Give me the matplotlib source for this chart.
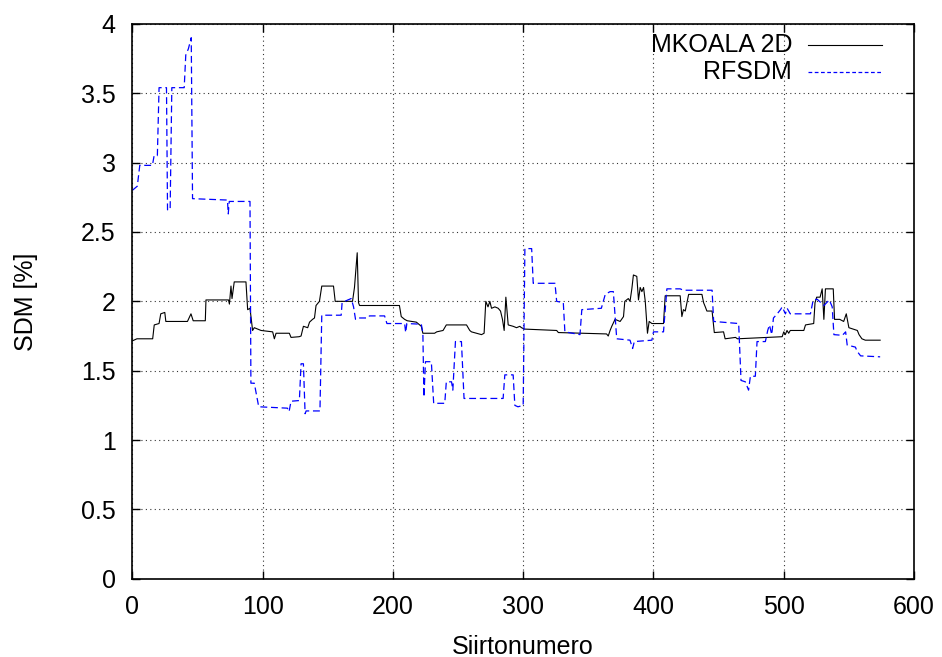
import matplotlib
matplotlib.use('Agg')
import matplotlib.pyplot as plt
from matplotlib.ticker import MultipleLocator, FormatStrFormatter

plt.rcParams['font.family'] = ['Liberation Sans', 'DejaVu Sans']

# MKOALA 2D (black, solid)
mk_x = [0, 3.5, 15.6, 16.8, 20.5, 21.8, 24.9, 25.7, 42.3, 45, 46.7, 56, 56.5, 73.8, 74.5,
        75.7, 76.5, 78.2, 87.2, 88.5, 90.3, 92.3, 93.6, 98.8, 107.7, 109, 110.3, 120.5,
        121.8, 128, 129.5, 131.3, 134.6, 136, 138.3, 139.8, 141, 143.6, 145.4, 154.4,
        155.7, 169, 170.5, 172.6, 173.6, 174.4, 205, 206.4, 209, 211, 218, 221.8, 223,
        232, 233.6, 238.5, 241, 256.5, 259, 260.3, 264, 268, 270, 271.3, 273, 274.4,
        275.7, 278.3, 280.8, 282.6, 284.1, 285.4, 286.7, 288.5, 292.3, 294.9, 297.4,
        298.7, 301, 325.7, 327, 364, 365.3, 366.7, 368, 370.5, 374.4, 377, 378, 380.7,
        382, 383.4, 384.6, 387.2, 388.5, 389.8, 391.1, 392.4, 393.7, 395.4, 396.7,
        398.8, 407.7, 409, 420.5, 421.8, 423, 424.4, 427, 437.2, 438.5, 439.8, 441, 445,
        446.7, 453.8, 455, 463, 464.4, 498.8, 500, 501.2, 502.5, 503.8, 505, 515.4,
        516.7, 523, 524, 525.3, 527.9, 529.5, 530.8, 532, 538, 539, 543, 546, 548, 550,
        556.5, 557.8, 560, 562.6, 574]
mk_y = [1.715, 1.73, 1.73, 1.83, 1.84, 1.91, 1.92, 1.855, 1.855, 1.91, 1.86, 1.86, 2.01,
        2.01, 1.98, 2.11, 2.02, 2.14, 2.14, 1.94, 1.95, 1.79, 1.81, 1.79, 1.78, 1.73,
        1.77, 1.77, 1.74, 1.745, 1.75, 1.82, 1.81, 1.85, 1.87, 1.88, 1.97, 2.0, 2.11,
        2.11, 2.0, 2.0, 2.1, 2.35, 1.99, 1.97, 1.97, 1.89, 1.87, 1.86, 1.85, 1.82, 1.77,
        1.77, 1.78, 1.79, 1.83, 1.83, 1.79, 1.78, 1.77, 1.76, 1.77, 2.0, 1.96, 2.0,
        1.95, 1.96, 1.95, 1.93, 1.87, 1.79, 2.03, 1.83, 1.82, 1.81, 1.82, 1.81, 1.80,
        1.79, 1.775, 1.765, 1.75, 1.79, 1.82, 1.87, 1.855, 1.89, 2.0, 2.02, 2.0, 2.09,
        2.19, 2.18, 2.01, 2.1, 2.07, 2.1, 2.0, 1.77, 1.855, 1.84, 1.84, 2.04, 2.04,
        1.89, 1.94, 1.93, 2.05, 2.05, 1.99, 1.96, 1.93, 1.93, 1.775, 1.78, 1.73, 1.74,
        1.73, 1.745, 1.78, 1.76, 1.79, 1.77, 1.79, 1.79, 1.83, 1.84, 1.99, 2.03, 2.03,
        2.09, 1.87, 2.09, 2.09, 1.87, 1.87, 1.855, 1.91, 1.81, 1.79, 1.76, 1.73, 1.72,
        1.72]

# RFSDM (blue, dashed)
rf_x = [0, 3.8, 5.7, 15.4, 16.7, 19.2, 20.5, 26.2, 27, 29, 30.3, 39.8, 41, 43, 45.2,
        46.2, 73, 73.6, 74.4, 90.3, 91, 93.6, 97, 119, 120.3, 121.8, 128.2, 129.5,
        131.3, 132.6, 133.4, 144, 145.4, 160.3, 161, 165.4, 168, 169.8, 171.3, 173,
        180.8, 182, 193.6, 195.4, 209, 209.8, 210.7, 221.8, 223, 223.8, 225, 229.5,
        231.3, 239.8, 241, 245, 246, 248, 252.6, 254.6, 284.6, 285.9, 292.3, 293.6,
        296, 300, 301.3, 306.5, 307.7, 324.4, 325.7, 330.8, 332, 343.6, 345, 360, 363,
        366.7, 369.2, 371.8, 382, 384, 385.3, 398.8, 400, 407.7, 410.3, 420.5, 423, 445,
        446.2, 465.4, 467.2, 470.5, 473, 474.4, 478.2, 479.5, 485.9, 487.7, 489, 490.8,
        492.1, 495, 497.5, 498.8, 501.3, 502.6, 505, 520.5, 522.6, 525.7, 530.8, 535,
        537.2, 538.5, 545, 547.5, 548.7, 555, 556.3, 559, 574]
rf_y = [2.80, 2.83, 2.98, 2.98, 3.05, 3.05, 3.54, 3.54, 2.66, 2.66, 3.54, 3.54, 3.775,
        3.82, 3.9, 2.74, 2.73, 2.63, 2.72, 2.72, 1.41, 1.41, 1.24, 1.23, 1.205, 1.28,
        1.285, 1.55, 1.55, 1.19, 1.21, 1.21, 1.90, 1.90, 1.99, 2.01, 2.02, 1.96, 1.87,
        1.88, 1.88, 1.895, 1.895, 1.84, 1.84, 1.775, 1.84, 1.835, 1.77, 1.31, 1.565,
        1.565, 1.265, 1.265, 1.42, 1.42, 1.36, 1.71, 1.71, 1.30, 1.30, 1.47, 1.47, 1.25,
        1.24, 1.25, 2.38, 2.38, 2.13, 2.13, 2.0, 1.99, 1.78, 1.76, 1.94, 1.95, 2.05,
        2.07, 2.07, 1.73, 1.72, 1.66, 1.71, 1.72, 1.78, 1.78, 2.09, 2.09, 2.08, 2.08,
        1.855, 1.84, 1.43, 1.42, 1.36, 1.46, 1.46, 1.71, 1.71, 1.79, 1.83, 1.76, 1.88,
        1.91, 1.94, 1.96, 1.91, 1.95, 1.91, 1.91, 2.01, 2.015, 1.97, 2.01, 1.96, 1.76,
        1.755, 1.78, 1.685, 1.67, 1.64, 1.607, 1.60]

labels = ['MKOALA 2D', 'RFSDM']

fig = plt.figure(figsize=(9.42, 6.57), dpi=100)
ax = fig.add_axes([0.1405, 0.119, 0.8298, 0.8447])

ax.plot(mk_x, mk_y, color='black', lw=0.8)
ax.plot(rf_x, rf_y, color='#0000ff', lw=0.9, dashes=(5.5, 3))

ax.set_xlim(0, 600)
ax.set_ylim(0, 4)
ax.xaxis.set_major_locator(MultipleLocator(100))
ax.yaxis.set_major_locator(MultipleLocator(0.5))
ax.yaxis.set_major_formatter(FormatStrFormatter('%g'))
ax.tick_params(direction='in', length=6, width=1, top=True, right=True,
               labelsize=18, pad=12)
ax.grid(True, color='#333333', linestyle=(0, (1, 3)), lw=0.8)
for s in ax.spines.values():
    s.set_linewidth(1.2)

ax.set_xlabel('Siirtonumero', fontsize=18, labelpad=11)
ax.set_ylabel('SDM [%]', fontsize=18, labelpad=31)

# gnuplot-style key: right-aligned text followed by the line sample
key_rows = [0.962, 0.914]
styles = [dict(color='black', lw=0.8), dict(color='#0000ff', lw=0.9, dashes=(3, 2))]
for lab, yy, st in zip(labels, key_rows, styles):
    ax.text(0.844, yy, lab, transform=ax.transAxes, ha='right', va='center', fontsize=18)
    ax.plot([0.865, 0.959], [yy, yy], transform=ax.transAxes, **st)

fig.savefig('out.png', dpi=100)
